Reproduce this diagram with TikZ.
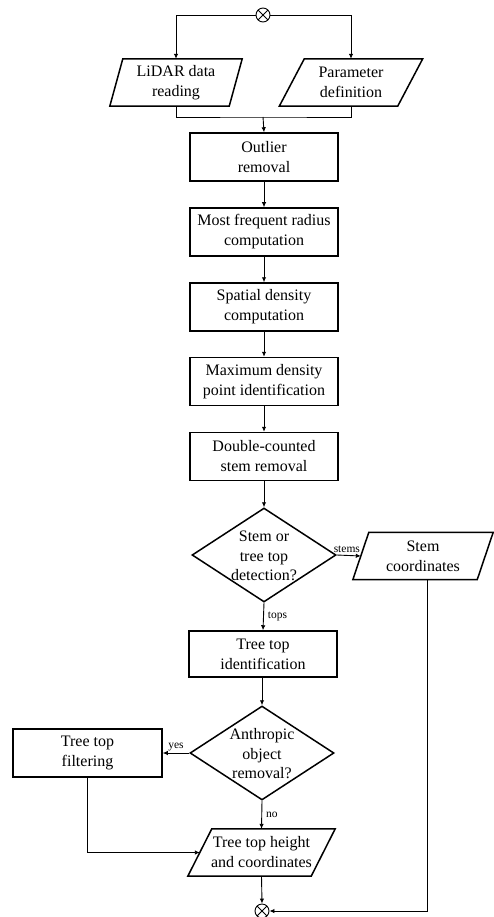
\documentclass[tikz,border=0pt]{standalone}
\usepackage{fontspec}
\setmainfont{Liberation Serif}
\usetikzlibrary{shapes.geometric,arrows.meta}
\tikzset{
  shapeline/.style={line width=1.5pt},
  proc/.style={draw, shapeline, rectangle, minimum width=148pt, minimum height=48pt, inner sep=0pt, align=center, font=\fontsize{16}{20}\selectfont},
  iotext/.style={rectangle, minimum height=47pt, inner sep=0pt, align=center, font=\fontsize{16}{20}\selectfont},
  decision/.style={draw, shapeline, diamond, minimum width=144pt, minimum height=94pt, inner sep=0pt},
  dtext/.style={align=center, font=\fontsize{16}{19.5}\selectfont},
  xcirc/.style={draw, line width=0.9pt, circle, minimum size=14pt, inner sep=0pt,
    path picture={\draw[line width=0.9pt] (path picture bounding box.north west) -- (path picture bounding box.south east)
      (path picture bounding box.north east) -- (path picture bounding box.south west);}},
  conn/.style={draw, line width=0.9pt},
  arr/.style={conn, -{Latex[length=5pt,width=4.5pt]}},
  small/.style={font=\fontsize{11.5}{14}\selectfont, inner sep=0pt},
}
\newcommand\iobox[2]{\draw[shapeline] ([xshift=-#2]#1.south west) -- ([xshift=-#2]#1.south east) -- ([xshift=#2]#1.north east) -- ([xshift=#2]#1.north west) -- cycle;}
\begin{document}
\begin{tikzpicture}[x=1pt,y=-1pt]
\useasboundingbox (0,0) rectangle (494,917);
% start
\node[xcirc] (start) at (263,15) {};
\node[iotext, minimum width=119pt] (lidar) at (176,82.5) {LiDAR data\\reading};
\iobox{lidar}{6.5pt}
\node[iotext, minimum width=118pt] (param) at (351,82.5) {Parameter\\definition};
\iobox{param}{12.5pt}
\draw[arr] (start.west) -| (lidar.north);
\draw[arr] (start.east) -| (param.north);
\coordinate (join) at (263,117);
\node[proc] (outlier) at (264,157) {Outlier\\removal};
\draw[conn] (lidar.south) |- (join) -| (param.south);
\draw[arr] (join) -- (outlier.north);
\node[proc] (radius) at (264,232) {Most frequent radius\\computation};
\node[proc] (density) at (264,307) {Spatial density\\computation};
\node[proc] (maxd) at (264,381.5) {Maximum density\\point identification};
\node[proc] (double) at (264,456.5) {Double-counted\\stem removal};
\draw[arr] (outlier) -- (radius);
\draw[arr] (radius) -- (density);
\draw[arr] (density) -- (maxd);
\draw[arr] (maxd) -- (double);
% decision 1
\node[decision] (dec1) at (264,555) {};
\node[dtext] (dec1t) at (264,556) {Stem or\\tree top\\detection?};
\draw[arr] (double) -- (dec1);
\node[iotext, minimum width=124pt] (stem) at (423,556) {Stem\\coordinates};
\iobox{stem}{8pt}
\draw[arr] (dec1.east) -- (stem.west) node[small, pos=0.42, above=2.5pt] (lstems) {stems};
\node[proc, minimum height=46pt] (ttid) at (263,654) {Tree top\\identification};
\draw[arr] (dec1.south) -- (ttid.north) node[small, midway, right=4pt] (ltops) {tops};
% decision 2
\node[decision] (dec2) at (262,753) {};
\node[dtext] (dec2t) at (262,754) {Anthropic\\object\\removal?};
\draw[arr] (ttid.south -| dec2.north) -- (dec2.north);
\node[proc, minimum width=149pt] (filter) at (87.5,753) {Tree top\\filtering};
\draw[arr] (dec2.west) -- (filter.east) node[small, pos=0.5, above=2pt] (lyes) {yes};
\node[iotext, minimum width=123pt] (tth) at (261.5,852.5) {Tree top height\\and coordinates};
\iobox{tth}{12pt}
\draw[arr] (dec2.south) -- (tth.north) node[small, midway, right=4pt] (lno) {no};
\draw[arr] (filter.south) |- (tth.west);
% end
\node[xcirc] (stop) at (262,911) {};
\draw[arr] (tth.south) -- (stop.north);
\draw[arr] ([xshift=4pt]stem.south) |- (stop.east);
\end{tikzpicture}
\end{document}
